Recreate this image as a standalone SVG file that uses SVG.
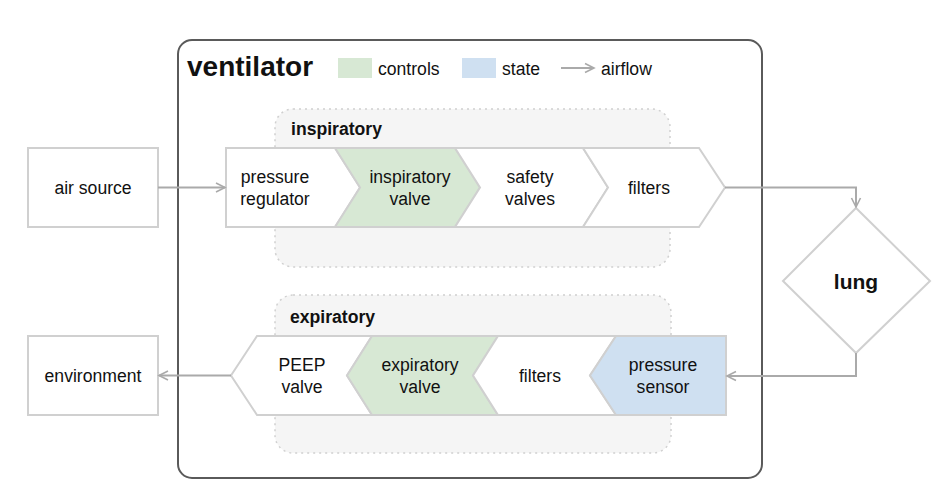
<svg xmlns="http://www.w3.org/2000/svg" width="948" height="504" viewBox="0 0 948 504">
<defs>
<marker id="ah" markerWidth="12" markerHeight="12" refX="10" refY="6" orient="auto" markerUnits="userSpaceOnUse">
<path d="M1,1.5 L10,6 L1,10.5" fill="none" stroke="#aaaaaa" stroke-width="1.6"/>
</marker>
<style>
.t{font-family:"Liberation Sans",Arial,sans-serif;font-size:17.6px;fill:#111;}
.c{text-anchor:middle;}
.b{font-weight:bold;}
.node{stroke:#d0d0d0;stroke-width:2;fill:#fff;}
.ctl{fill:#d7e8d4;}
.st{fill:#cfe0f1;}
.grp{fill:#f5f5f5;stroke:#d0d0d0;stroke-width:1.5;stroke-dasharray:2 4;}
.edge{fill:none;stroke:#aaaaaa;stroke-width:2;marker-end:url(#ah);}
</style>
</defs>
<rect width="948" height="504" fill="#fff"/>
<g id="ventilator">
<rect x="178" y="40" width="584" height="438" rx="14" fill="#fff" stroke="#5a5a5a" stroke-width="2"/>
<text class="t b" x="187" y="76" style="font-size:28px">ventilator</text>
</g>
<g id="legend">
<rect class="ctl" x="338" y="58" width="34" height="20"/>
<text class="t" x="378" y="75">controls</text>
<rect class="st" x="462" y="58" width="34" height="20"/>
<text class="t" x="502" y="75">state</text>
<line class="edge" x1="561" y1="68" x2="594" y2="68"/>
<text class="t" x="601" y="75">airflow</text>
</g>
<g id="inspiratory">
<rect class="grp" x="275" y="109" width="395" height="158" rx="18"/>
<text class="t b" x="291" y="135">inspiratory</text>
</g>
<g id="expiratory">
<rect class="grp" x="275" y="295" width="396" height="158" rx="18"/>
<text class="t b" x="290" y="323">expiratory</text>
</g>
<g id="air-source">
<rect class="node" x="28" y="148" width="130" height="79"/>
<text class="t c" x="93" y="194">air source</text>
</g>
<g id="environment">
<rect class="node" x="28" y="336" width="130" height="79"/>
<text class="t c" x="93" y="382">environment</text>
</g>
<g id="pressure-regulator">
<path class="node" d="M226,148 L335,148 L360,187.5 L335,227 L226,227 Z"/>
<text class="t c" x="275" y="183">pressure</text>
<text class="t c" x="275" y="205">regulator</text>
</g>
<g id="inspiratory-valve">
<path class="node ctl" d="M335,148 L455,148 L480,187.5 L455,227 L335,227 L360,187.5 Z"/>
<text class="t c" x="410" y="183">inspiratory</text>
<text class="t c" x="410" y="205">valve</text>
</g>
<g id="safety-valves">
<path class="node" d="M455,148 L583,148 L608,187.5 L583,227 L455,227 L480,187.5 Z"/>
<text class="t c" x="530" y="183">safety</text>
<text class="t c" x="530" y="205">valves</text>
</g>
<g id="filters-in">
<path class="node" d="M583,148 L699,148 L725,187.5 L699,227 L583,227 L608,187.5 Z"/>
<text class="t c" x="649" y="194">filters</text>
</g>
<g id="peep-valve">
<path class="node" d="M257,336 L372,336 L347,375.5 L372,415 L257,415 L231,375.5 Z"/>
<text class="t c" x="302" y="371">PEEP</text>
<text class="t c" x="302" y="393">valve</text>
</g>
<g id="expiratory-valve">
<path class="node ctl" d="M372,336 L498,336 L473,375.5 L498,415 L372,415 L347,375.5 Z"/>
<text class="t c" x="420" y="371">expiratory</text>
<text class="t c" x="420" y="393">valve</text>
</g>
<g id="filters-ex">
<path class="node" d="M498,336 L616,336 L590,375.5 L616,415 L498,415 L473,375.5 Z"/>
<text class="t c" x="540" y="382">filters</text>
</g>
<g id="pressure-sensor">
<path class="node st" d="M616,336 L726,336 L726,415 L616,415 L590,375.5 Z"/>
<text class="t c" x="663" y="371">pressure</text>
<text class="t c" x="663" y="393">sensor</text>
</g>
<g id="lung">
<path class="node" d="M856,208 L930,281 L856,353 L783,281 Z"/>
<text class="t c b" x="856" y="289" style="font-size:21px">lung</text>
</g>
<g id="connectors">
<line class="edge" x1="158" y1="187.5" x2="225" y2="187.5"/>
<path class="edge" d="M725,187.5 L856,187.5 L856,207"/>
<path class="edge" d="M856,353 L856,376 L727,376"/>
<line class="edge" x1="231" y1="375.5" x2="159" y2="375.5"/>
</g>
</svg>
